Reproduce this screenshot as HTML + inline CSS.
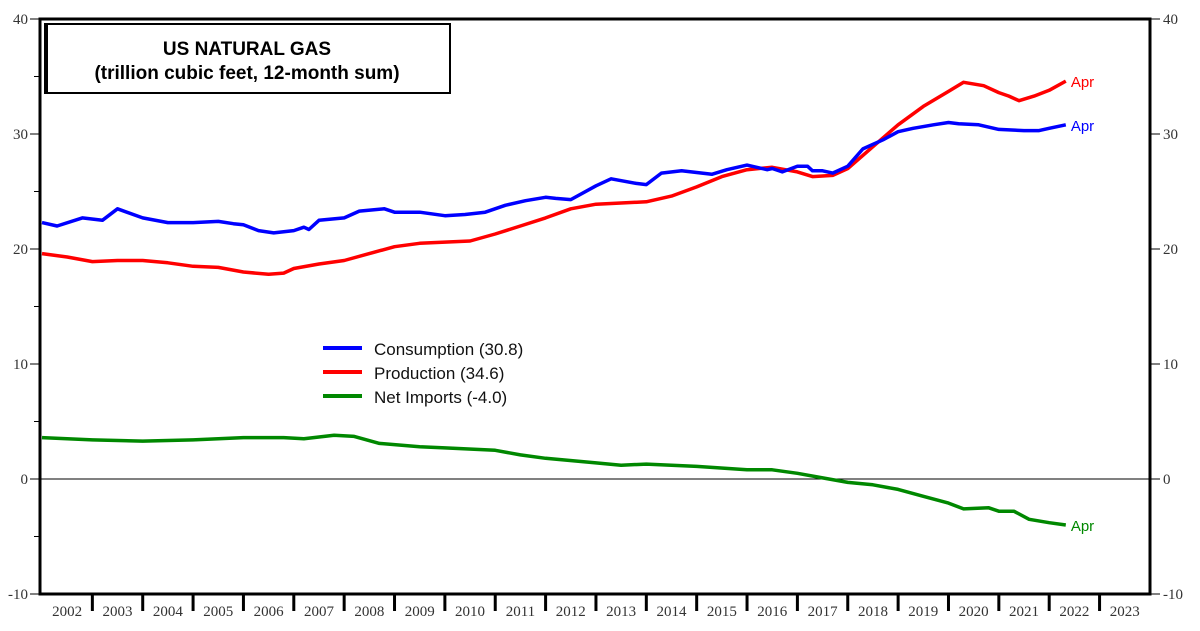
<!DOCTYPE html>
<html><head><meta charset="utf-8"><style>
body{margin:0;background:#fff;}
svg{display:block;}
.tk{font-family:"Liberation Serif",serif;font-size:15px;fill:#333;}
.lg{font-family:"Liberation Sans",sans-serif;font-size:17px;fill:#111;}
</style></head><body>
<svg id="c" width="1200" height="631">
<rect x="40" y="19" width="1110" height="575" fill="#fff" stroke="#000" stroke-width="3"/>
<line x1="40" y1="479" x2="1150" y2="479" stroke="#000" stroke-width="1"/>
<g id="axes"></g>
<g id="series"></g>
<g>
<rect x="45" y="24" width="405" height="69" fill="#fff" stroke="#000" stroke-width="2"/>
<line x1="46" y1="24" x2="46" y2="93" stroke="#000" stroke-width="4"/>
<text x="247" y="55" text-anchor="middle" font-family="Liberation Sans,sans-serif" font-weight="bold" font-size="19">US NATURAL GAS</text>
<text x="247" y="79" text-anchor="middle" font-family="Liberation Sans,sans-serif" font-weight="bold" font-size="19">(trillion cubic feet, 12-month sum)</text>
</g>
<g>
<line x1="323" y1="348" x2="362" y2="348" stroke="#0000ff" stroke-width="4"/>
<text class="lg" x="374" y="355">Consumption (30.8)</text>
<line x1="323" y1="372" x2="362" y2="372" stroke="#ff0000" stroke-width="4"/>
<text class="lg" x="374" y="379">Production (34.6)</text>
<line x1="323" y1="396" x2="362" y2="396" stroke="#008800" stroke-width="4"/>
<text class="lg" x="374" y="403">Net Imports (-4.0)</text>
</g>
</svg>
<script>
const years=[2002,2003,2004,2005,2006,2007,2008,2009,2010,2011,2012,2013,2014,2015,2016,2017,2018,2019,2020,2021,2022,2023];
const yTicks=[-10,0,10,20,30,40];
const consT=[2002,2002.3,2002.8,2003.2,2003.5,2004,2004.5,2005,2005.5,2005.8,2006,2006.3,2006.6,2007,2007.2,2007.3,2007.5,2008,2008.3,2008.8,2009,2009.5,2010,2010.4,2010.8,2011.2,2011.6,2012,2012.2,2012.5,2013,2013.3,2013.8,2014,2014.3,2014.7,2015.3,2015.6,2016,2016.4,2016.5,2016.7,2017,2017.2,2017.3,2017.5,2017.7,2018,2018.3,2018.7,2019,2019.3,2019.7,2020,2020.2,2020.6,2021,2021.5,2021.8,2022,2022.33];
const consV=[22.3,22.0,22.7,22.5,23.5,22.7,22.3,22.3,22.4,22.2,22.1,21.6,21.4,21.6,21.9,21.7,22.5,22.7,23.3,23.5,23.2,23.2,22.9,23.0,23.2,23.8,24.2,24.5,24.4,24.3,25.5,26.1,25.7,25.6,26.6,26.8,26.5,26.9,27.3,26.9,27.0,26.7,27.2,27.2,26.8,26.8,26.6,27.2,28.7,29.5,30.2,30.5,30.8,31.0,30.9,30.8,30.4,30.3,30.3,30.5,30.8];
const prodT=[2002,2002.5,2003,2003.5,2004,2004.5,2005,2005.5,2006,2006.5,2006.8,2007,2007.5,2008,2008.5,2009,2009.5,2010,2010.5,2011,2011.5,2012,2012.5,2013,2013.5,2014,2014.5,2015,2015.5,2016,2016.5,2017,2017.3,2017.7,2018,2018.5,2019,2019.5,2020,2020.3,2020.7,2021,2021.2,2021.4,2021.7,2022,2022.33];
const prodV=[19.6,19.3,18.9,19.0,19.0,18.8,18.5,18.4,18.0,17.8,17.9,18.3,18.7,19.0,19.6,20.2,20.5,20.6,20.7,21.3,22.0,22.7,23.5,23.9,24.0,24.1,24.6,25.4,26.3,26.9,27.1,26.7,26.3,26.4,27.0,28.9,30.8,32.4,33.7,34.5,34.2,33.6,33.3,32.9,33.3,33.8,34.6];
const impT=[2002,2003,2004,2005,2006,2006.8,2007.2,2007.8,2008.2,2008.7,2009.5,2010,2011,2011.5,2012,2013,2013.5,2014,2015,2016,2016.5,2017,2017.5,2018,2018.5,2019,2019.5,2020,2020.3,2020.8,2021,2021.3,2021.6,2022,2022.33];
const impV=[3.6,3.4,3.3,3.4,3.6,3.6,3.5,3.8,3.7,3.1,2.8,2.7,2.5,2.1,1.8,1.4,1.2,1.3,1.1,0.8,0.8,0.5,0.1,-0.3,-0.5,-0.9,-1.5,-2.1,-2.6,-2.5,-2.8,-2.8,-3.5,-3.8,-4.0];
const X0=42,PX=50.36,Y0=479,PY=11.5;
const xs=t=>X0+(t-2002)*PX, ys=v=>Y0-v*PY;
const NS='http://www.w3.org/2000/svg';
const ax=document.getElementById('axes'), sr=document.getElementById('series');
function mk(tag,at,parent){const e=document.createElementNS(NS,tag);for(const k in at)e.setAttribute(k,at[k]);parent.appendChild(e);return e;}
yTicks.forEach(v=>{
  const y=ys(v);
  const l1=mk('line',{x1:30,y1:y,x2:40,y2:y,stroke:'#000'},ax);
  
  
  const l2=mk('line',{x1:1150,y1:y,x2:1160,y2:y,stroke:'#000'},ax);
  
  
  const t1=mk('text',{x:28,y:y+5,'text-anchor':'end',class:'tk'},ax);t1.textContent=v;
  
  
  const t2=mk('text',{x:1163,y:y+5,class:'tk'},ax);t2.textContent=v;
  
  
  if(v<40){const m=mk('line',{x1:34,y1:ys(v+5),x2:40,y2:ys(v+5),stroke:'#000'},ax);
  
  }
});
years.forEach(yr=>{
  const x=xs(yr);
  if(yr>2002){const tk=mk('line',{x1:x,y1:594,x2:x,y2:611,stroke:'#000','stroke-width':3},ax);
  
  }
  const t=mk('text',{x:x+PX/2,y:616,'text-anchor':'middle',class:'tk'},ax);t.textContent=yr;
  
  
});
function line(T,V,col,name){
  const d=T.map((t,i)=>(i?'L':'M')+xs(t).toFixed(1)+' '+ys(V[i]).toFixed(1)).join(' ');
  const p=mk('path',{d:d,fill:'none',stroke:col,'stroke-width':3.5,'stroke-linejoin':'round'},sr);
  
  
  const lt=T[T.length-1],lv=V[V.length-1];
  const a=mk('text',{x:xs(lt)+5,y:ys(lv)+6,fill:col,'font-family':'Liberation Sans,sans-serif','font-size':15},sr);
  a.textContent='Apr';
  
  
}
line(impT,impV,'#008800','net-imports-line');
line(prodT,prodV,'#ff0000','production-line');
line(consT,consV,'#0000ff','consumption-line');
</script>
</body></html>
